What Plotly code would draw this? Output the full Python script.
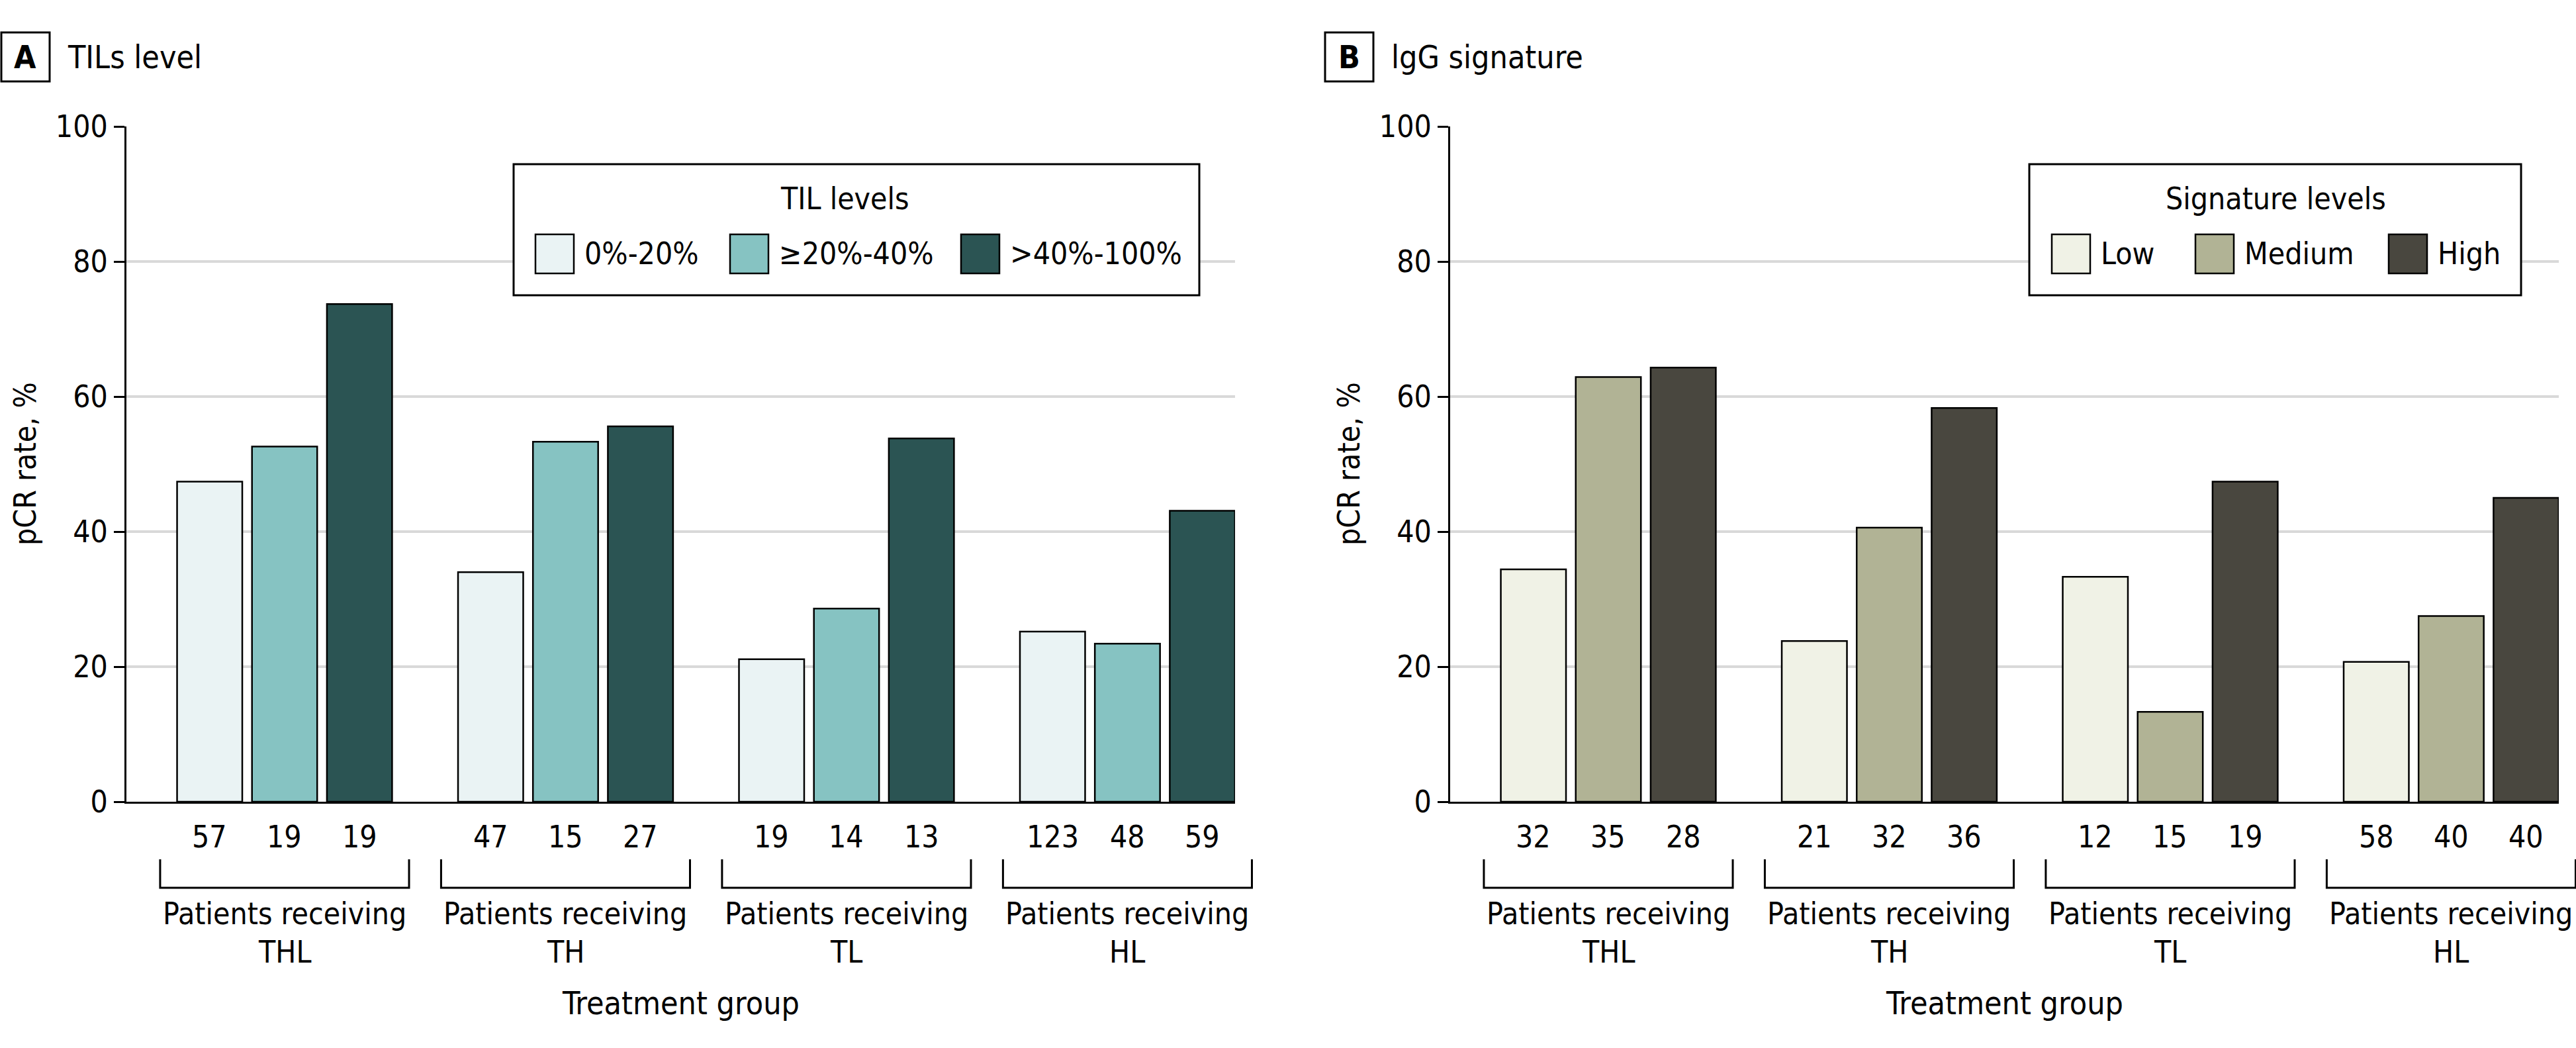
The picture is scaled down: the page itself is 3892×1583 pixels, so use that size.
import plotly.graph_objects as go

# treatment groups on the x axis
groups = ["THL", "TH", "TL", "HL"]

# panel A: pCR rate (%) by TIL level
til_levels = ["0%-20%", "≥20%-40%", ">40%-100%"]
til_low = [47.4, 34.0, 21.1, 25.2]
til_mid = [52.6, 53.3, 28.6, 23.4]
til_high = [73.7, 55.6, 53.8, 43.1]
til_counts = [[57, 19, 19], [47, 15, 27], [19, 14, 13], [123, 48, 59]]

# panel B: pCR rate (%) by IgG signature level
sig_levels = ["Low", "Medium", "High"]
sig_low = [34.4, 23.8, 33.3, 20.7]
sig_mid = [62.9, 40.6, 13.3, 27.5]
sig_high = [64.3, 58.3, 47.4, 45.0]
sig_counts = [[32, 35, 28], [21, 32, 36], [12, 15, 19], [58, 40, 40]]

y_ticks = [0, 20, 40, 60, 80, 100]

til_colors = ["#eaf3f4", "#86c3c2", "#2b5453"]
sig_colors = ["#f0f2e6", "#b1b395", "#49473f"]

W, H = 3892, 1583
FONT = "DejaVu Sans Condensed, Liberation Sans Narrow, sans-serif"
FS = 46
BARGAP = 0.2
GROUPGAP = 0.13
X_RANGE = [-0.563, 3.383]


def fx(px):
    return px / W


def fy(py):
    return 1 - py / H


panels = [
    dict(letter="A", title="TILs level", legend_title="TIL levels",
         levels=til_levels, series=[til_low, til_mid, til_high],
         counts=til_counts, colors=til_colors, dx=0,
         legend_box=(776, 1812), legend_title_x=1276,
         swatches=[809, 1103, 1452]),
    dict(letter="B", title="lgG signature", legend_title="Signature levels",
         levels=sig_levels, series=[sig_low, sig_mid, sig_high],
         counts=sig_counts, colors=sig_colors, dx=2000,
         legend_box=(3066, 3809), legend_title_x=3438,
         swatches=[3100, 3317, 3609]),
]

fig = go.Figure()
shapes = []
annotations = []
slot = (1 - BARGAP) / 3
x_pos = list(range(len(groups)))


def dom(x):
    return (x - X_RANGE[0]) / (X_RANGE[1] - X_RANGE[0])


for k, p in enumerate(panels):
    sfx = "" if k == 0 else str(k + 1)
    xa, ya = "x" + sfx, "y" + sfx
    dx = p["dx"]

    for j, (name, vals) in enumerate(zip(p["levels"], p["series"])):
        fig.add_trace(go.Bar(
            x=x_pos, y=vals, name=name, xaxis=xa, yaxis=ya,
            marker=dict(color=p["colors"][j], line=dict(color="black", width=2.5)),
            showlegend=False,
            hovertemplate=name + ": %{y:.1f}%<extra></extra>",
        ))

    fig.layout["xaxis" + sfx] = dict(
        domain=[fx(191 + dx), fx(1866 + dx)], range=X_RANGE, anchor=ya,
        showticklabels=False, ticks="", showgrid=False, zeroline=False,
        showline=True, linecolor="black", linewidth=3, automargin=False,
    )
    fig.layout["yaxis" + sfx] = dict(
        domain=[fy(1211), fy(191)], range=[0, 100], anchor=xa,
        tickvals=y_ticks, ticks="outside", ticklen=16, tickwidth=3,
        tickcolor="black", showline=True, linecolor="black", linewidth=3,
        showgrid=True, gridcolor="#d9d9d9", gridwidth=4, zeroline=False,
        tickfont=dict(size=FS), automargin=False,
    )

    # panel letter box and title
    shapes.append(dict(type="rect", xref="paper", yref="paper",
                       x0=fx(dx + 2), x1=fx(dx + 75), y0=fy(123), y1=fy(49),
                       line=dict(color="black", width=3)))
    annotations.append(dict(text="<b>" + p["letter"] + "</b>", xref="paper", yref="paper",
                            x=fx(dx + 38), y=fy(86), showarrow=False,
                            xanchor="center", yanchor="middle", font=dict(size=FS + 2)))
    annotations.append(dict(text=p["title"], xref="paper", yref="paper",
                            x=fx(dx + 100), y=fy(86), showarrow=False,
                            xanchor="left", yanchor="middle", font=dict(size=FS + 2)))

    # y title
    annotations.append(dict(text="pCR rate, %", xref="paper", yref="paper",
                            x=fx(dx + 38), y=(fy(1211) + fy(191)) / 2, textangle=-90,
                            showarrow=False, xanchor="center", yanchor="middle",
                            font=dict(size=FS)))

    # counts, brackets and group labels
    for i, g in enumerate(groups):
        for j in range(3):
            annotations.append(dict(text=str(p["counts"][i][j]), xref=xa, yref="paper",
                                    x=i + (j - 1) * slot, y=fy(1264), showarrow=False,
                                    xanchor="center", yanchor="middle", font=dict(size=FS)))
        x0, x1 = dom(i - 0.443), dom(i + 0.443)
        shapes.append(dict(type="path", xref=xa + " domain", yref="paper",
                           path=f"M {x0},{fy(1298)} L {x0},{fy(1341)} L {x1},{fy(1341)} L {x1},{fy(1298)}",
                           line=dict(color="black", width=3)))
        annotations.append(dict(text="Patients receiving", xref=xa, yref="paper",
                                x=i, y=fy(1380), showarrow=False,
                                xanchor="center", yanchor="middle", font=dict(size=FS)))
        annotations.append(dict(text=g, xref=xa, yref="paper",
                                x=i, y=fy(1438), showarrow=False,
                                xanchor="center", yanchor="middle", font=dict(size=FS)))

    annotations.append(dict(text="Treatment group", xref=xa + " domain", yref="paper",
                            x=0.5, y=fy(1515), showarrow=False,
                            xanchor="center", yanchor="middle", font=dict(size=FS + 2)))

    # legend box
    lx0, lx1 = p["legend_box"]
    shapes.append(dict(type="rect", xref="paper", yref="paper",
                       x0=fx(lx0), x1=fx(lx1), y0=fy(446), y1=fy(248),
                       fillcolor="white", line=dict(color="black", width=3)))
    annotations.append(dict(text=p["legend_title"], xref="paper", yref="paper",
                            x=fx(p["legend_title_x"]), y=fy(300), showarrow=False,
                            xanchor="center", yanchor="middle", font=dict(size=FS)))
    for j, sx in enumerate(p["swatches"]):
        shapes.append(dict(type="rect", xref="paper", yref="paper",
                           x0=fx(sx), x1=fx(sx + 58), y0=fy(413), y1=fy(354),
                           fillcolor=p["colors"][j], line=dict(color="black", width=2.5)))
        annotations.append(dict(text=p["levels"][j], xref="paper", yref="paper",
                                x=fx(sx + 72), y=fy(383), showarrow=False,
                                xanchor="left", yanchor="middle", font=dict(size=FS)))

fig.update_layout(
    width=W, height=H,
    margin=dict(l=0, r=0, t=0, b=0),
    barmode="group", bargap=BARGAP, bargroupgap=GROUPGAP,
    template="plotly_white",
    plot_bgcolor="white", paper_bgcolor="white",
    font=dict(family=FONT, size=FS, color="black"),
    shapes=shapes, annotations=annotations,
    showlegend=False,
)

# drop the default page margin so the figure sits at the window origin
fig.write_html("out.html", config={"displayModeBar": False},
               post_script="document.body.style.margin = '0';")
